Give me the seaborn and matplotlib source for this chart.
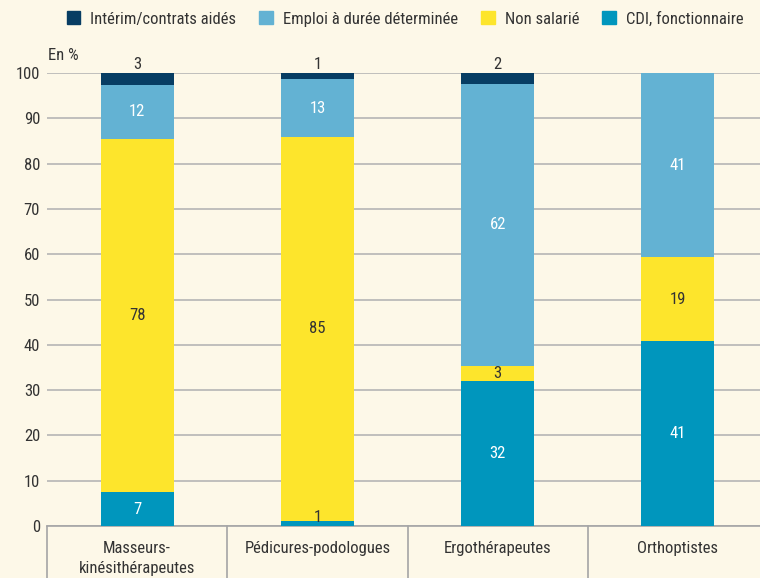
import matplotlib
matplotlib.use("Agg")
import matplotlib.pyplot as plt
from matplotlib import font_manager as fm
from matplotlib.patches import Patch
import numpy as np
import pandas as pd
import seaborn as sns

categories = ["Masseurs-\nkinésithérapeutes", "Pédicures-podologues", "Ergothérapeutes", "Orthoptistes"]
# bar heights
cdi = [7.5, 1.2, 32.0, 40.9]
non_salarie = [78.0, 84.6, 3.4, 18.4]
edd = [11.9, 12.9, 62.2, 40.7]
interim = [2.6, 1.3, 2.4, 0]
# printed (rounded) labels
cdi_lab = [7, 1, 32, 41]
non_salarie_lab = [78, 85, 3, 19]
edd_lab = [12, 13, 62, 41]
interim_lab = [3, 1, 2, None]

series_names = ["CDI, fonctionnaire", "Non salarié", "Emploi à durée déterminée", "Intérim/contrats aidés"]
series_vals = [cdi, non_salarie, edd, interim]
series_labs = [cdi_lab, non_salarie_lab, edd_lab, interim_lab]
colors = ["#0096bd", "#fde52c", "#63b2d3", "#073d63"]
text_cols = ["white", "#333333", "white", "white"]

bg = "#fdf8e8"
dark = "#333333"

sns.set_theme(style="white")
font = "DejaVu Sans"
for f in ["Liberation Sans Narrow", "Roboto Condensed", "Liberation Sans"]:
    try:
        fm.findfont(f, fallback_to_default=False)
        font = f
        break
    except Exception:
        pass
plt.rcParams["font.family"] = [font, "DejaVu Sans"]

fig = plt.figure(figsize=(7.6, 5.78), dpi=100, facecolor=bg)
ax = fig.add_axes([47 / 760, 52 / 578, 713 / 760, 453 / 578])
ax.set_facecolor(bg)

df = pd.DataFrame({"cat": categories})
cum = np.zeros(len(categories))
cums = []
for v in series_vals:
    cum = cum + np.array(v)
    cums.append(cum.copy())

# draw cumulative totals from the top series down so each layer covers the one above
for i in range(len(series_vals) - 1, -1, -1):
    df["val"] = cums[i]
    sns.barplot(data=df, x="cat", y="val", color=colors[i], saturation=1,
                width=0.405, ax=ax, zorder=3, linewidth=0)

# value labels
for i, (v, labs) in enumerate(zip(series_vals, series_labs)):
    for j, (val, lab) in enumerate(zip(v, labs)):
        if lab is None:
            continue
        top = cums[i][j]
        bottom = top - val
        if i == 3:
            ax.text(j, top + 0.3, str(lab), ha="center", va="bottom", fontsize=12, color=dark, zorder=5)
        elif val < 2:
            ax.text(j, bottom + 0.2, str(lab), ha="center", va="bottom", fontsize=12, color=dark, zorder=5)
        else:
            ax.text(j, (bottom + top) / 2, str(lab), ha="center", va="center", fontsize=12,
                    color=text_cols[i], zorder=5)

ax.set_ylim(0, 100)
ax.set_xlim(-0.5, 3.455)
ax.set_yticks(range(0, 101, 10))
ax.yaxis.grid(True, color="#b5b5b5", linewidth=1.2, zorder=0)
ax.set_axisbelow(True)
ax.set_xlabel("")
ax.set_ylabel("")
for s in ["left", "right", "top"]:
    ax.spines[s].set_visible(False)
ax.spines["bottom"].set_color("#a5a5a5")
ax.spines["bottom"].set_linewidth(1.2)
ax.tick_params(axis="y", length=0, pad=5, labelsize=12, labelcolor=dark)
ax.tick_params(axis="x", length=0, pad=11, labelsize=12, labelcolor=dark)
for lab in ax.get_xticklabels():
    lab.set_linespacing(1.4)

# category separators below the axis
trans = ax.get_xaxis_transform()
for xs in [-0.5, 0.5, 1.5, 2.5]:
    ax.plot([xs, xs], [0, -0.2], transform=trans, color="#a5a5a5", linewidth=1.2, clip_on=False)

fig.text(48 / 760, 1 - 55 / 578, "En %", fontsize=12, color=dark, va="center", ha="left")

handles = [Patch(color=colors[i]) for i in [3, 2, 1, 0]]
labels = [series_names[i] for i in [3, 2, 1, 0]]
fig.legend(handles, labels, loc="center", bbox_to_anchor=(405 / 760, 1 - 19 / 578), ncol=4,
           frameon=False, fontsize=12, handlelength=0.8, handleheight=0.8, handletextpad=0.6,
           columnspacing=1.4, labelcolor=dark)

fig.savefig("out.png", dpi=100, facecolor=bg)
